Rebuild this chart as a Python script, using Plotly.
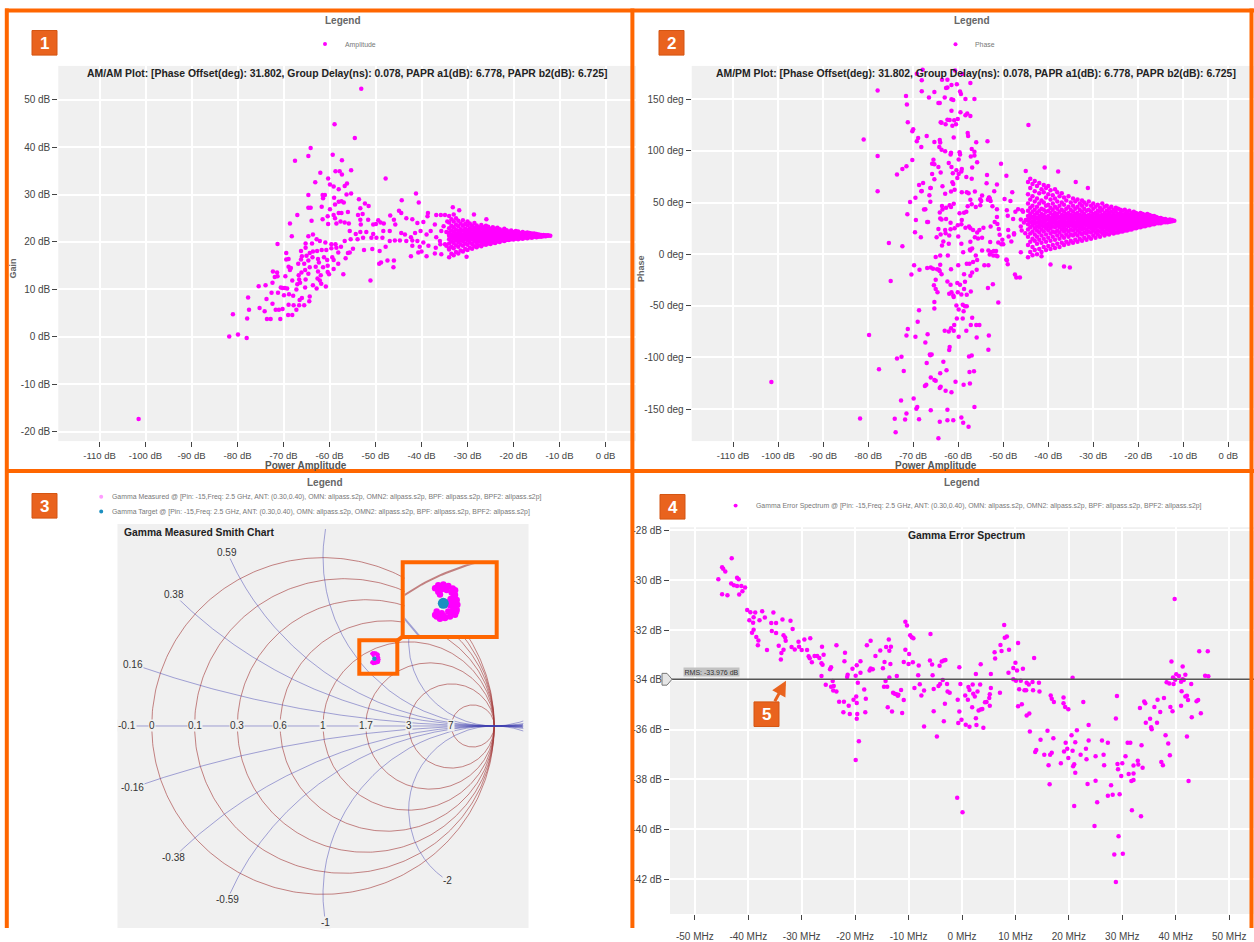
import numpy as np
import plotly.graph_objects as go

W, H = 1254, 942
FONT = "Liberation Sans, Arial, sans-serif"
MAGENTA = "#ff00ff"
TEAL = "#1b8fc0"
ORANGE = "#ff6600"
BADGE = "#e9631e"
PLOT_BG = "#f0f0f0"
TICK_COLOR = "#444444"

# ---------------- AM/AM: power amplitude (dB) vs gain (dB) ----------------
am_points = [
    (-53.1, 52.3), (-58.9, 44.8), (-54.5, 41.9), (-64.1, 39.8), (-64.6, 38.1), (-67.5, 37.1), (-59.3, 38.4),
    (-57.3, 37.2), (-58.7, 34.9), (-57.8, 34.9), (-57.3, 34.2), (-55.3, 35.1), (-62.0, 34.6), (-60.3, 33.4),
    (-63.1, 32.6), (-59.9, 32.1), (-59.1, 31.7), (-58.0, 31.1), (-56.2, 32.3), (-56.7, 31.8), (-47.8, 33.4),
    (-64.6, 29.9), (-61.5, 29.9), (-61.0, 29.9), (-61.4, 29.2), (-56.3, 30.0), (-55.3, 30.2), (-59.0, 29.3),
    (-58.0, 28.5), (-57.4, 28.6), (-56.9, 28.3), (-58.8, 27.9), (-64.6, 27.2), (-64.1, 27.2), (-61.7, 27.4),
    (-59.9, 26.9), (-53.6, 29.0), (-52.3, 28.1), (-51.5, 27.6), (-53.3, 27.1), (-41.2, 30.2), (-40.6, 28.3),
    (-44.3, 28.8), (-67.0, 25.7), (-68.6, 23.9), (-68.2, 21.2), (-71.3, 19.6), (-63.9, 24.5), (-61.5, 24.8),
    (-60.4, 25.4), (-59.1, 25.7), (-58.0, 26.1), (-57.4, 26.1), (-56.0, 26.3), (-58.8, 25.0), (-60.3, 23.8),
    (-58.5, 23.9), (-57.6, 24.3), (-56.7, 24.1), (-55.8, 23.9), (-53.8, 25.7), (-52.8, 25.9), (-53.3, 24.7),
    (-53.2, 23.7), (-51.6, 24.7), (-50.5, 23.7), (-49.9, 23.8), (-49.4, 24.6), (-48.9, 24.1), (-48.2, 23.9),
    (-46.8, 25.6), (-46.0, 24.7), (-45.7, 23.7), (-44.9, 26.6), (-44.4, 26.1), (-43.3, 25.0), (-42.0, 24.8),
    (-40.9, 24.0), (-39.6, 24.2), (-38.6, 26.1), (-38.7, 25.4), (-36.8, 25.7), (-35.8, 25.7), (-34.9, 25.7),
    (-34.4, 24.3), (-35.2, 23.3), (-37.1, 23.7), (-38.0, 22.3), (-35.7, 22.3), (-34.6, 22.1), (-34.0, 21.6),
    (-36.8, 21.0), (-36.0, 20.2), (-34.9, 19.5), (-38.9, 21.6), (-40.2, 22.3), (-41.4, 21.9), (-42.3, 21.0),
    (-43.6, 21.6), (-44.4, 21.9), (-46.9, 22.3), (-48.3, 22.3), (-50.5, 21.7), (-52.0, 22.1), (-53.3, 22.1),
    (-54.3, 21.7), (-55.6, 22.3), (-56.7, 20.2), (-55.4, 20.6), (-53.9, 20.6), (-52.7, 20.9), (-50.9, 20.9),
    (-49.8, 20.9), (-48.5, 20.9), (-46.9, 20.2), (-45.8, 20.3), (-44.7, 20.3), (-43.3, 20.2), (-42.0, 20.3),
    (-40.9, 20.2), (-39.6, 19.9), (-38.5, 19.2), (-36.9, 18.8), (-35.9, 19.5), (-34.6, 19.2), (-34.0, 18.7),
    (-37.1, 17.6), (-35.7, 17.4), (-40.4, 19.0), (-42.0, 19.2), (-40.0, 18.0), (-40.7, 17.8), (-38.9, 17.0),
    (-42.3, 17.0), (-47.8, 19.0), (-49.1, 18.1), (-50.7, 18.5), (-52.5, 18.3), (-54.9, 18.6), (-56.0, 17.7),
    (-55.6, 17.8), (-56.5, 16.6), (-57.5, 19.0), (-58.7, 19.5), (-59.6, 19.5), (-60.9, 19.9), (-62.1, 20.2),
    (-62.8, 20.6), (-63.6, 21.6), (-64.6, 21.2), (-65.2, 19.7), (-63.8, 19.7), (-65.2, 18.8), (-66.2, 18.1),
    (-66.0, 17.0), (-66.2, 16.3), (-65.0, 17.1), (-64.3, 17.7), (-63.6, 18.0), (-62.7, 18.1), (-61.7, 18.3),
    (-60.7, 18.3), (-59.6, 18.7), (-58.5, 18.8), (-58.1, 17.8), (-59.4, 16.8), (-61.2, 16.8), (-62.5, 16.4),
    (-63.7, 16.8), (-64.6, 16.1), (-65.5, 15.4), (-62.3, 15.7), (-60.5, 16.2), (-59.1, 16.2), (-58.1, 15.4),
    (-59.1, 14.3), (-60.4, 15.0), (-61.4, 14.7), (-63.0, 14.8), (-64.3, 14.7), (-65.3, 14.1), (-66.7, 13.0),
    (-69.4, 17.7), (-69.4, 16.3), (-68.9, 16.4), (-68.9, 14.8), (-68.4, 14.5), (-68.6, 14.1), (-69.6, 12.8),
    (-66.8, 15.4), (-66.1, 13.6), (-64.6, 13.3), (-62.5, 13.8), (-61.9, 13.0), (-60.4, 13.7), (-60.1, 13.2),
    (-62.6, 12.3), (-62.1, 11.9), (-61.8, 11.2), (-60.8, 10.6), (-63.6, 10.9), (-62.8, 10.2), (-65.2, 12.1),
    (-66.6, 12.1), (-67.0, 11.1), (-66.4, 11.4), (-65.3, 10.4), (-67.2, 10.0), (-68.1, 11.9), (-72.3, 13.8),
    (-71.4, 13.6), (-71.3, 12.8), (-71.9, 12.6), (-72.4, 11.4), (-69.7, 10.3), (-70.2, 10.3), (-69.2, 10.2),
    (-70.6, 10.4), (-64.3, 8.5), (-64.4, 7.5), (-66.0, 8.2), (-66.5, 7.8), (-67.9, 8.7), (-68.8, 9.0),
    (-69.9, 8.8), (-71.2, 9.3), (-72.6, 9.3), (-73.7, 8.0), (-72.4, 7.0), (-75.2, 6.1), (-74.1, 5.4),
    (-71.7, 5.7), (-71.0, 5.7), (-70.2, 5.9), (-68.9, 6.8), (-67.8, 6.7), (-66.6, 6.7), (-65.5, 6.7),
    (-67.2, 5.7), (-69.0, 4.6), (-68.1, 4.6), (-77.7, 8.3), (-77.5, 5.7), (-75.4, 10.7), (-73.9, 10.9),
    (-81.0, 4.8), (-77.9, 3.9), (-73.6, 3.8), (-72.8, 3.8), (-70.7, 3.8), (-81.8, 0.1), (-79.9, 0.5),
    (-78.0, -0.2), (-57.0, 13.2), (-49.2, 15.4), (-48.8, 15.7), (-47.4, 16.1), (-46.0, 16.1), (-46.1, 14.7),
    (-51.1, 11.9), (-101.5, -17.3), (-30.2, 16.9), (-28.6, 25.8), (-31.8, 26.7), (-33.2, 27.3), (-25.9, 24.8),
]
# dense converging tail: one power column with the gains seen in it
am_tail_power = [
    -34.0, -33.5, -33.0, -32.5, -32.0, -31.5, -31.0, -30.5, -30.0, -29.5, -29.0, -28.5, -28.0, -27.5, -27.0,
    -26.5, -26.0, -25.5, -25.0, -24.5, -24.0, -23.5, -23.0, -22.5, -22.0, -21.5, -21.0, -20.5, -20.0, -19.5,
    -19.0, -18.5, -18.0, -17.5, -17.0, -16.5, -16.0, -15.5, -15.0, -14.5, -14.0, -13.5, -13.0, -12.5, -12.0,
]
am_tail_gain = [
    [16.8, 18.4, 19.7, 20.6, 21.3, 22.0, 22.9, 24.1, 25.5], [17.5, 19.0, 20.1, 20.9, 21.6, 22.4, 23.4, 24.8],
    [17.2, 18.7, 19.8, 20.7, 21.4, 22.2, 23.1, 24.3, 25.8], [17.9, 19.3, 20.3, 21.0, 21.7, 22.6, 23.7, 25.0],
    [17.6, 19.0, 20.0, 20.8, 21.5, 22.3, 23.3, 24.5], [18.2, 19.5, 20.4, 21.2, 21.9, 22.7, 23.9],
    [18.0, 19.2, 20.2, 20.9, 21.6, 22.4, 23.4, 24.6], [18.5, 19.7, 20.6, 21.3, 22.0, 22.8, 23.8],
    [18.3, 19.4, 20.3, 21.0, 21.7, 22.5, 23.5, 24.3], [18.8, 19.9, 20.7, 21.4, 22.1, 22.9, 23.9],
    [18.6, 19.6, 20.5, 21.2, 21.8, 22.6, 23.4], [19.1, 20.1, 20.8, 21.5, 22.2, 23.0, 24.0],
    [18.9, 19.8, 20.6, 21.3, 21.9, 22.7, 23.5], [19.3, 20.2, 20.9, 21.6, 22.3, 23.1],
    [19.1, 20.0, 20.7, 21.4, 22.0, 22.8, 23.6], [19.5, 20.3, 21.0, 21.6, 22.3, 23.1],
    [19.4, 20.1, 20.8, 21.4, 22.1, 22.9, 23.4], [19.7, 20.4, 21.1, 21.7, 22.4, 23.2],
    [19.6, 20.3, 20.9, 21.5, 22.1, 22.8], [19.9, 20.6, 21.2, 21.8, 22.5, 23.1],
    [19.8, 20.4, 21.0, 21.6, 22.2, 22.8], [20.1, 20.7, 21.3, 21.8, 22.4, 23.0],
    [20.0, 20.6, 21.1, 21.6, 22.2, 22.7], [20.3, 20.8, 21.3, 21.9, 22.4],
    [20.2, 20.7, 21.2, 21.7, 22.2, 22.8], [20.4, 20.9, 21.4, 21.9, 22.5],
    [20.4, 20.8, 21.3, 21.7, 22.2], [20.6, 21.0, 21.4, 21.9, 22.4], [20.5, 20.9, 21.3, 21.7, 22.1],
    [20.7, 21.1, 21.5, 21.9, 22.3], [20.6, 21.0, 21.4, 21.8, 22.2], [20.8, 21.2, 21.5, 21.9],
    [20.7, 21.1, 21.4, 21.8, 22.1], [20.9, 21.2, 21.6, 21.9], [20.8, 21.1, 21.4, 21.7, 22.0],
    [21.0, 21.3, 21.6, 21.9], [20.9, 21.2, 21.5, 21.8], [21.1, 21.3, 21.6, 21.8],
    [21.0, 21.3, 21.5, 21.7], [21.1, 21.4, 21.6], [21.1, 21.3, 21.5], [21.2, 21.4, 21.5],
    [21.2, 21.4], [21.3, 21.4], [21.3],
]
am_x_ticks = [-110, -100, -90, -80, -70, -60, -50, -40, -30, -20, -10, 0]
am_y_ticks = [-20, -10, 0, 10, 20, 30, 40, 50]

# ---------------- AM/PM: power amplitude (dB) vs phase (deg) ----------------
pm_points = [
    (-77.9, 158.6), (-71.6, 153.2), (-71.4, 144.9), (-71.2, 127.8), (-70.2, 119.2), (-70.0, 121.1), (-69.2, 109.3),
    (-68.9, 112.5), (-68.2, 103.9), (-67.0, 114.4), (-81.0, 111.2), (-77.9, 95.0), (-73.6, 77.2), (-72.4, 82.6),
    (-71.5, 85.2), (-70.2, 91.2), (-77.9, 61.0), (-71.3, 38.8), (-70.7, 50.5), (-69.5, 54.7), (-68.2, 61.0),
    (-68.7, 67.1), (-67.8, 69.0), (-75.4, 10.8), (-72.4, 7.7), (-75.0, -26.0), (-70.4, -19.7), (-69.8, -10.8),
    (-68.6, -15.2), (-69.6, 21.3), (-69.4, 33.1), (-68.3, 16.5), (-67.3, 43.6), (-67.6, 43.2), (-66.7, 31.2),
    (-66.9, 31.2), (-66.2, 50.9), (-66.4, 57.2), (-66.1, 64.2), (-65.8, 77.6), (-65.8, 87.7), (-65.5, 91.5),
    (-65.3, 108.7), (-64.0, 108.1), (-64.2, 103.9), (-64.1, 110.6), (-63.7, 101.1), (-62.9, 99.8), (-63.9, 127.8),
    (-64.4, 146.5), (-64.1, 146.5), (-63.0, 151.9), (-62.7, 161.1), (-62.4, 161.4), (-68.1, 168.4), (-68.1, 157.9),
    (-66.5, 151.9), (-65.3, 157.0), (-69.2, 174.8), (-67.9, 178.6), (-63.6, 169.1), (-62.4, 169.1), (-61.5, 164.0),
    (-60.3, 164.6), (-60.7, 177.9), (-59.6, 157.6), (-59.4, 155.1), (-58.4, 150.3), (-59.1, 174.5), (-57.3, 165.9),
    (-56.4, 150.3), (-61.5, 150.0), (-61.1, 149.4), (-61.5, 138.9), (-62.4, 130.3), (-61.9, 130.0), (-61.3, 124.3),
    (-60.9, 129.7), (-60.1, 130.9), (-60.5, 125.8), (-59.5, 137.6), (-58.0, 136.3), (-58.4, 134.7), (-57.3, 133.8),
    (-63.7, 127.4), (-62.8, 125.8), (-57.9, 117.3), (-61.0, 113.1), (-57.8, 114.4), (-57.0, 102.0), (-56.4, 99.2),
    (-56.4, 95.7), (-57.2, 94.7), (-55.8, 89.0), (-56.0, 108.4), (-53.5, 109.3), (-61.7, 96.6), (-61.6, 98.2),
    (-59.7, 98.8), (-59.9, 91.8), (-59.6, 96.6), (-62.1, 88.3), (-61.5, 84.5), (-60.4, 81.4), (-59.2, 82.6),
    (-61.2, 78.5), (-59.9, 77.6), (-59.3, 80.1), (-58.2, 74.7), (-57.0, 73.1), (-56.9, 83.9), (-65.3, 87.1),
    (-64.4, 84.5), (-63.9, 79.1), (-65.3, 72.5), (-63.5, 65.8), (-66.2, 64.2), (-68.1, 61.3), (-62.9, 58.5),
    (-61.6, 60.7), (-60.8, 62.3), (-61.1, 68.0), (-61.3, 69.6), (-60.2, 73.7), (-59.2, 60.1), (-58.1, 60.1),
    (-57.7, 59.1), (-57.3, 52.8), (-56.3, 60.7), (-55.1, 53.1), (-53.6, 76.6), (-53.7, 68.6), (-54.7, 56.9),
    (-53.2, 54.7), (-53.0, 53.7), (-52.8, 51.5), (-52.0, 61.0), (-51.4, 67.4), (-50.5, 87.7), (-49.3, 75.9),
    (-49.7, 53.4), (-48.4, 51.5), (-48.0, 60.1), (-47.3, 41.0), (-46.7, 43.5), (-49.2, 42.6), (-49.0, 37.2),
    (-47.8, 34.0), (-46.1, 33.7), (-45.8, 42.6), (-45.6, 41.0), (-45.0, 80.7), (-44.4, 125.2), (-45.0, 33.1),
    (-46.1, 26.7), (-45.4, 30.8), (-45.1, 20.3), (-47.6, 20.3), (-48.9, 23.5), (-50.0, 9.5), (-51.3, 29.3),
    (-51.9, 31.2), (-51.4, 35.9), (-51.4, 43.5), (-52.4, 46.4), (-53.4, 52.8), (-53.1, 55.0), (-54.9, 51.5),
    (-55.1, 47.4), (-56.1, 45.8), (-57.0, 48.3), (-57.9, 46.4), (-58.2, 41.0), (-58.7, 40.1), (-59.2, 33.1),
    (-59.3, 28.9), (-59.7, 39.7), (-58.4, 25.7), (-57.6, 26.7), (-57.3, 25.1), (-56.7, 23.5), (-55.8, 21.0),
    (-55.3, 23.5), (-56.3, 16.5), (-54.4, 25.7), (-52.8, 26.7), (-51.0, 24.5), (-50.8, 18.8), (-50.2, 14.0),
    (-48.8, 17.2), (-47.6, 19.1), (-45.9, 22.9), (-48.2, 12.4), (-51.1, 11.4), (-52.9, 11.8), (-54.7, 15.9),
    (-55.6, 15.3), (-57.3, 12.1), (-61.0, 48.9), (-61.6, 45.8), (-61.9, 47.4), (-63.6, 46.7), (-62.7, 45.1),
    (-63.5, 43.2), (-64.1, 40.4), (-63.7, 33.7), (-62.7, 34.0), (-61.7, 30.5), (-62.9, 23.5), (-61.7, 24.1),
    (-60.8, 25.1), (-60.1, 28.0), (-60.0, 17.2), (-62.0, 18.1), (-62.8, 20.3), (-63.9, 19.1), (-64.8, 16.5),
    (-64.4, 24.5), (-64.0, 34.6), (-63.3, 12.4), (-63.6, 8.3), (-62.1, 10.2), (-59.3, 10.2), (-58.9, 1.9),
    (-57.4, 4.5), (-56.9, 5.4), (-57.3, 3.5), (-56.1, -1.3), (-54.7, 3.5), (-53.3, 3.5), (-52.7, 2.2),
    (-52.1, 3.2), (-53.0, -0.3), (-52.2, -1.3), (-51.3, -1.9), (-51.6, -1.3), (-51.6, 3.2), (-50.4, 9.5),
    (-46.1, 1.9), (-49.2, -6.0), (-49.0, -9.8), (-49.3, -5.1), (-47.1, -22.5), (-46.3, -22.5), (-47.4, -19.7),
    (-53.3, -10.8), (-54.2, -10.8), (-55.9, -15.2), (-56.9, -17.8), (-56.7, -7.6), (-58.1, -9.2), (-57.5, -9.2),
    (-55.8, -5.7), (-57.3, -21.0), (-58.7, -19.4), (-60.0, -10.8), (-61.6, -14.6), (-64.0, -10.2), (-64.3, -15.2),
    (-63.7, -19.4), (-64.1, -16.2), (-64.7, -14.6), (-66.1, -13.0), (-65.6, -14.0), (-66.9, -13.3), (-65.0, -2.8),
    (-64.0, -1.3), (-62.3, -1.3), (-65.4, -30.2), (-65.0, -24.8), (-64.6, -36.8), (-62.4, -26.4), (-61.7, -29.5),
    (-61.5, -36.8), (-61.0, -41.6), (-62.0, -38.4), (-61.1, -40.0), (-60.1, -36.8), (-60.2, -28.0), (-59.6, -29.5),
    (-58.5, -26.7), (-58.7, -33.7), (-58.1, -39.4), (-57.2, -36.2), (-59.3, -39.1), (-59.0, -48.9), (-58.5, -50.5),
    (-58.1, -50.5), (-58.8, -55.3), (-59.9, -53.7), (-60.4, -49.6), (-59.0, -62.3), (-60.3, -62.3), (-60.9, -68.6),
    (-61.6, -71.8), (-61.0, -74.3), (-62.1, -75.0), (-63.0, -74.3), (-59.9, -80.1), (-58.2, -74.3), (-57.2, -68.6),
    (-56.9, -61.6), (-56.0, -68.6), (-55.3, -68.6), (-55.9, -80.7), (-53.4, -32.7), (-52.3, -29.2), (-51.1, -46.7),
    (-53.2, -78.8), (-53.3, -92.5), (-65.0, -33.7), (-65.3, -46.4), (-65.3, -52.7), (-69.0, -65.4), (-68.7, -54.3),
    (-71.2, -72.4), (-71.5, -78.8), (-69.5, -80.1), (-67.3, -85.5), (-66.8, -77.5), (-65.9, -97.2), (-66.2, -97.9),
    (-67.0, -105.5), (-63.3, -104.2), (-62.6, -112.5), (-61.9, -89.9), (-62.0, -92.8), (-60.6, -123.6),
    (-61.5, -133.8), (-62.8, -132.2), (-64.1, -129.6), (-63.9, -128.4), (-65.0, -122.6), (-66.1, -119.5),
    (-67.4, -127.7), (-67.1, -126.5), (-64.0, -115.3), (-57.6, -99.1), (-57.4, -125.2), (-56.5, -113.4),
    (-57.5, -114.1), (-57.0, -98.2), (-65.3, -122.0), (-58.8, -126.5), (-62.4, -150.6), (-66.1, -151.2),
    (-69.1, -148.1), (-68.7, -159.8), (-69.3, -149.7), (-69.9, -139.8), (-71.5, -154.4), (-74.1, -159.5),
    (-71.8, -160.1), (-73.9, -172.5), (-72.7, -141.7), (-72.1, -113.1), (-73.6, -101.0), (-72.6, -99.4),
    (-77.6, -111.5), (-79.8, -78.2), (-81.8, -159.2), (-66.3, -97.2), (-64.1, -162.4), (-62.4, -160.8),
    (-61.1, -160.8), (-59.3, -158.2), (-58.9, -163.3), (-57.7, -167.1), (-56.4, -148.1), (-64.4, -178.3),
    (-101.5, -123.9), (-39.5, -10.0), (-36.5, -12.0), (-35.2, -13.0), (-41.5, -2.0), (-37.8, 80.0),
    (-40.8, 84.0), (-33.9, 70.0), (-31.2, 64.0),
]
pm_tail_power = [
    -44.5, -44.0, -43.5, -43.0, -42.5, -42.0, -41.5, -41.0, -40.5, -40.0, -39.5, -39.0, -38.5, -38.0, -37.5,
    -37.0, -36.5, -36.0, -35.5, -35.0, -34.5, -34.0, -33.5, -33.0, -32.5, -32.0, -31.5, -31.0, -30.5, -30.0,
    -29.5, -29.0, -28.5, -28.0, -27.5, -27.0, -26.5, -26.0, -25.5, -25.0, -24.5, -24.0, -23.5, -23.0, -22.5,
    -22.0, -21.5, -21.0, -20.5, -20.0, -19.5, -19.0, -18.5, -18.0, -17.5, -17.0, -16.5, -16.0, -15.5, -15.0,
    -14.5, -14.0, -13.5, -13.0, -12.5, -12.0,
]
pm_tail_phase = [
    [-3, 9, 17, 24, 29, 33, 37, 42, 49, 58, 70], [2, 12, 20, 26, 31, 35, 39, 45, 53, 64, 73],
    [-1, 7, 15, 22, 28, 32, 36, 41, 47, 56, 68], [4, 13, 19, 25, 30, 34, 38, 43, 51, 61, 71],
    [0, 10, 17, 23, 27, 31, 35, 40, 46, 54, 66], [5, 14, 21, 26, 30, 33, 37, 42, 49, 59, 69],
    [2, 11, 18, 24, 28, 32, 36, 39, 44, 52, 63], [7, 15, 22, 27, 31, 34, 38, 43, 50, 60, 67],
    [4, 12, 19, 25, 29, 33, 36, 41, 47, 55, 64], [8, 16, 23, 27, 30, 34, 37, 42, 48, 58, 66],
    [5, 13, 20, 25, 29, 32, 35, 40, 45, 53, 62], [9, 17, 22, 27, 31, 34, 38, 43, 49, 57],
    [6, 14, 21, 26, 30, 33, 36, 40, 46, 54, 63], [10, 18, 23, 28, 31, 35, 39, 44, 51, 60],
    [7, 15, 21, 26, 29, 32, 36, 41, 47, 56], [11, 18, 24, 28, 31, 34, 38, 43, 50, 59],
    [9, 16, 22, 26, 30, 33, 37, 41, 48, 55], [12, 19, 24, 28, 31, 35, 39, 44, 52],
    [10, 17, 22, 27, 30, 33, 36, 40, 46, 56], [13, 19, 24, 28, 31, 34, 38, 43, 50],
    [11, 18, 23, 27, 30, 33, 37, 41, 47, 54], [14, 20, 25, 28, 31, 35, 39, 44, 51],
    [12, 18, 23, 27, 30, 33, 36, 40, 46, 53], [15, 21, 25, 29, 32, 35, 38, 43, 49],
    [13, 19, 24, 27, 30, 33, 37, 41, 47, 52], [16, 21, 25, 29, 32, 35, 39, 44, 50],
    [14, 20, 24, 28, 31, 34, 37, 42, 48], [17, 22, 26, 29, 32, 35, 38, 43, 51],
    [15, 21, 25, 28, 31, 34, 37, 41, 47], [18, 23, 26, 29, 32, 35, 39, 44, 49],
    [16, 21, 25, 28, 31, 33, 36, 40, 46], [19, 23, 27, 30, 32, 35, 38, 42, 48],
    [17, 22, 26, 29, 31, 34, 37, 41, 45], [20, 24, 27, 30, 33, 35, 38, 43, 49],
    [18, 22, 26, 29, 31, 34, 37, 40, 46], [20, 24, 27, 30, 32, 35, 38, 42, 47],
    [19, 23, 26, 29, 31, 33, 36, 40, 44], [21, 24, 27, 30, 32, 35, 37, 41, 46],
    [20, 23, 26, 29, 31, 34, 36, 39, 43], [21, 25, 28, 30, 32, 34, 37, 41, 45],
    [21, 24, 27, 29, 31, 33, 36, 39, 44], [22, 25, 28, 30, 32, 34, 37, 40, 43],
    [22, 25, 27, 29, 31, 33, 35, 38, 42], [23, 26, 28, 30, 32, 34, 36, 39, 43],
    [23, 25, 27, 30, 32, 33, 35, 38, 41], [24, 26, 28, 30, 32, 34, 36, 38, 42],
    [24, 26, 29, 31, 33, 35, 37, 40], [25, 27, 29, 31, 32, 34, 36, 39, 41],
    [25, 27, 29, 31, 33, 35, 37, 40], [26, 28, 30, 31, 33, 34, 36, 39],
    [26, 28, 29, 31, 33, 35, 37, 40], [27, 29, 30, 32, 33, 35, 37, 39],
    [27, 29, 31, 32, 34, 36, 38], [28, 29, 31, 32, 34, 35, 37, 39],
    [28, 30, 31, 33, 34, 36, 38], [29, 30, 32, 33, 34, 36, 37],
    [29, 31, 32, 33, 35, 37], [30, 31, 32, 33, 34, 36], [30, 31, 32, 34, 35], [30, 32, 33, 34, 35],
    [31, 32, 33, 34], [31, 32, 33, 34], [31, 32, 33], [31.5, 32.5, 33.5], [32, 33], [32.5],
]
pm_y_ticks = [-150, -100, -50, 0, 50, 100, 150]

# ---------------- Smith chart: reflection coefficients ----------------
gamma_target = [(0.30, 0.40)]
gamma_measured = [
    (0.2902, 0.4359), (0.3001, 0.4371), (0.3098, 0.4346), (0.3183, 0.4293), (0.2969, 0.4281), (0.3066, 0.4262),
    (0.3164, 0.4215), (0.2902, 0.4229), (0.3229, 0.4164), (0.3261, 0.4066), (0.3274, 0.3969), (0.3261, 0.3871),
    (0.3196, 0.4111), (0.3196, 0.4001), (0.3196, 0.3902), (0.3144, 0.4086), (0.3229, 0.3773), (0.3131, 0.3740),
    (0.3033, 0.3707), (0.2935, 0.3695), (0.2871, 0.3740), (0.3098, 0.3838), (0.2969, 0.3805), (0.2871, 0.3838),
    (0.3164, 0.3818), (0.2871, 0.4307), (0.2935, 0.4176), (0.3131, 0.3960), (0.3131, 0.4040), (0.2840, 0.3770),
    (0.2840, 0.4300), (0.3050, 0.4320), (0.3230, 0.4260), (0.3250, 0.3830), (0.3010, 0.3750),
]
smith_resistances = [0, 0.1429, 0.3333, 0.6, 1, 1.6667, 3, 7]
smith_reactances = [0.16, 0.38, 0.59, 1, 2, -0.16, -0.38, -0.59, -1, -2]
smith_axis_label_r = [-0.1, 0, 0.1429, 0.3333, 0.6, 1, 1.6667, 3, 7]
smith_axis_labels = ["-0.1", "0", "0.1", "0.3", "0.6", "1", "1.7", "3", "7"]
smith_arc_labels = ["0.16", "0.38", "0.59", "-0.16", "-0.38", "-0.59", "-1", "-2"]
smith_arc_label_x = [0.16, 0.38, 0.59, -0.16, -0.38, -0.59, -1, -2]

# ---------------- Gamma error spectrum: offset (MHz) vs error (dB) ----------------
ges_points = [
    (-43.1, -29.12), (-44.9, -29.48), (-44.7, -29.54), (-44.3, -29.65), (-45.6, -29.96), (-42.1, -29.90),
    (-41.8, -29.96), (-43.2, -30.13), (-42.7, -30.20), (-42.1, -30.23), (-41.3, -30.23), (-40.6, -30.29),
    (-41.1, -30.44), (-44.9, -30.56), (-43.9, -30.60), (-41.7, -30.57), (-40.2, -31.19), (-39.6, -31.28),
    (-38.7, -31.29), (-37.4, -31.24), (-35.3, -31.29), (-39.0, -31.49), (-36.9, -31.50), (-39.8, -31.61),
    (-37.9, -31.61), (-39.1, -31.71), (-35.7, -31.72), (-34.8, -31.72), (-33.6, -31.58), (-32.1, -31.63),
    (-39.3, -32.11), (-39.0, -31.99), (-35.6, -32.04), (-34.8, -32.12), (-31.7, -31.96), (-38.5, -32.28),
    (-38.1, -32.42), (-38.2, -32.61), (-33.4, -32.21), (-33.1, -32.30), (-33.0, -32.43), (-36.5, -32.80),
    (-34.3, -32.63), (-33.4, -32.79), (-33.8, -32.92), (-33.9, -33.18), (-31.9, -32.68), (-31.3, -32.78),
    (-30.6, -32.47), (-30.5, -32.67), (-30.0, -32.80), (-29.5, -32.38), (-29.0, -32.80), (-28.4, -32.33),
    (-28.7, -33.05), (-28.5, -33.13), (-28.1, -33.29), (-27.6, -33.04), (-27.1, -33.04), (-26.7, -33.12),
    (-26.2, -32.67), (-25.9, -32.99), (-26.3, -33.33), (-26.1, -33.39), (-24.5, -33.49), (-24.7, -33.57),
    (-23.5, -32.61), (-21.9, -32.91), (-22.0, -33.25), (-26.3, -33.84), (-25.5, -34.20), (-24.2, -34.05),
    (-24.0, -34.25), (-24.5, -34.28), (-24.1, -34.43), (-23.5, -34.47), (-23.0, -34.88), (-22.1, -34.88),
    (-21.2, -35.04), (-22.2, -35.30), (-21.0, -35.37), (-20.3, -34.80), (-19.8, -34.67), (-19.7, -34.93),
    (-19.6, -35.37), (-19.7, -35.56), (-19.5, -34.12), (-19.9, -33.83), (-21.4, -33.79), (-21.5, -33.88),
    (-20.5, -33.55), (-19.7, -33.41), (-19.0, -33.25), (-19.0, -33.71), (-18.3, -34.39), (-18.0, -34.76),
    (-18.1, -35.30), (-17.8, -32.61), (-17.1, -32.43), (-17.3, -33.62), (-17.1, -33.54), (-16.7, -33.57),
    (-16.2, -33.04), (-15.3, -32.82), (-14.8, -33.53), (-14.5, -33.28), (-14.2, -32.68), (-13.7, -32.38),
    (-13.3, -32.67), (-13.6, -32.83), (-13.4, -33.36), (-14.3, -34.05), (-14.6, -34.28), (-14.0, -34.28),
    (-13.6, -33.91), (-12.2, -33.84), (-12.9, -34.52), (-12.6, -34.56), (-12.3, -34.58), (-12.0, -34.64),
    (-11.4, -34.41), (-11.9, -34.60), (-10.9, -34.81), (-13.9, -35.10), (-13.1, -35.27), (-11.2, -35.33),
    (-10.6, -31.67), (-10.3, -31.82), (-9.7, -32.21), (-9.4, -32.29), (-9.1, -32.33), (-10.6, -32.79),
    (-9.9, -32.96), (-10.9, -33.28), (-10.0, -33.36), (-9.2, -33.29), (-8.1, -33.42), (-8.2, -33.81),
    (-7.9, -34.18), (-7.6, -34.63), (-7.1, -34.43), (-8.9, -34.33), (-5.9, -32.16), (-6.0, -33.22),
    (-5.6, -33.38), (-5.5, -33.81), (-5.3, -34.37), (-4.4, -34.25), (-4.1, -34.17), (-4.2, -33.43),
    (-3.8, -33.26), (-3.4, -33.22), (-3.1, -33.20), (-3.6, -34.01), (-2.8, -34.17), (-2.7, -34.47),
    (-2.3, -34.52), (-3.2, -34.96), (-5.3, -35.26), (-3.4, -35.66), (-7.1, -35.87), (-4.7, -36.27),
    (-0.5, -33.49), (-0.3, -34.17), (-0.8, -34.80), (-0.5, -35.27), (-0.7, -35.73), (-0.1, -35.60),
    (0.7, -35.80), (1.4, -35.88), (1.2, -34.29), (0.6, -34.63), (1.1, -34.80), (1.4, -34.41),
    (-19.3, -36.47), (-19.9, -37.22), (-0.9, -38.73), (0.1, -39.32),
    (39.8, -30.75), (7.9, -31.80), (8.0, -32.31), (8.4, -32.26), (7.2, -32.60), (7.4, -32.84), (8.8, -32.79),
    (6.1, -32.89), (6.2, -33.14), (10.5, -32.52), (13.5, -33.12), (10.0, -33.31), (9.6, -33.52), (10.3, -33.62),
    (11.4, -33.55), (8.7, -33.71), (5.4, -33.76), (2.6, -33.76), (3.5, -33.37), (9.6, -33.98), (10.1, -34.04),
    (11.0, -34.04), (12.1, -34.12), (12.5, -34.19), (13.2, -34.09), (14.4, -34.12), (10.7, -34.38),
    (11.7, -34.42), (12.0, -34.42), (13.3, -34.42), (14.5, -34.47), (7.1, -34.52), (5.4, -34.33), (5.2, -34.58),
    (5.1, -34.73), (4.6, -34.89), (4.3, -34.90), (5.2, -35.04), (3.4, -34.19), (2.0, -34.19), (2.1, -34.56),
    (2.4, -34.67), (2.9, -34.47), (1.9, -35.10), (2.6, -35.54), (2.7, -35.81), (3.5, -35.19), (3.1, -35.23),
    (3.8, -35.17), (4.0, -35.92), (11.2, -34.98), (10.5, -35.06), (12.6, -35.35), (12.1, -35.43),
    (12.7, -36.07), (13.9, -36.82), (13.7, -36.90), (14.7, -36.40), (16.0, -36.04), (17.1, -36.34),
    (16.6, -34.63), (16.8, -34.76), (17.2, -34.89), (19.0, -34.71), (19.0, -34.94), (19.3, -35.09),
    (19.9, -35.18), (20.7, -33.92), (22.7, -34.89), (23.7, -35.81), (20.5, -36.22), (21.2, -36.51),
    (21.5, -36.02), (19.4, -36.53), (19.7, -36.77), (19.1, -36.88), (20.7, -36.85), (15.4, -37.01),
    (16.5, -37.01), (16.8, -36.93), (16.2, -37.43), (16.4, -38.19), (18.5, -37.35), (19.9, -37.14),
    (21.0, -37.39), (20.8, -37.47), (21.2, -37.73), (22.2, -37.01), (23.2, -36.77), (23.7, -36.44),
    (23.3, -37.19), (23.5, -38.18), (25.0, -38.05), (25.0, -37.07), (26.5, -37.01), (26.2, -36.43),
    (27.3, -36.53), (26.6, -37.43), (25.3, -38.91), (24.8, -39.87), (21.0, -39.07), (27.9, -38.23),
    (27.3, -38.65), (28.2, -38.61), (29.5, -38.59), (29.0, -34.65), (28.8, -35.55), (29.1, -37.38),
    (29.2, -37.59), (30.0, -37.35), (29.8, -37.86), (30.6, -37.07), (31.0, -36.53), (31.5, -36.53),
    (31.2, -37.78), (31.7, -38.06), (32.1, -38.02), (32.1, -37.76), (32.1, -37.44), (32.9, -37.25),
    (33.0, -37.40), (33.8, -37.53), (33.6, -36.63), (31.8, -39.24), (33.5, -39.48), (29.3, -40.28),
    (28.5, -41.01), (30.1, -40.98), (28.8, -42.12), (33.3, -35.13), (34.1, -34.87), (34.3, -34.94),
    (34.4, -35.72), (35.2, -35.56), (35.4, -35.90), (35.5, -35.98), (36.5, -35.72), (36.0, -35.09),
    (36.6, -34.80), (37.1, -35.29), (37.8, -34.73), (38.1, -36.22), (38.6, -36.56), (38.9, -37.03),
    (37.3, -37.30), (37.6, -37.43), (39.0, -35.09), (39.4, -35.26), (39.2, -33.26), (39.5, -33.91),
    (39.6, -34.17), (39.9, -34.00), (40.1, -33.77), (40.6, -33.84), (41.0, -34.08), (41.3, -33.98),
    (41.5, -34.01), (41.3, -33.46), (41.8, -33.79), (42.9, -34.17), (41.1, -34.46), (41.0, -35.04),
    (41.8, -34.67), (42.1, -34.64), (42.3, -34.81), (43.9, -34.86), (44.2, -34.81), (43.0, -35.50),
    (44.7, -35.34), (42.1, -36.27), (42.4, -38.06), (44.4, -32.85), (46.0, -32.85), (45.5, -33.83),
    (46.1, -33.85), (38.3, -34.10), (38.8, -34.15),
]
ges_rms_db = -33.976
ges_x_ticks = [-50, -40, -30, -20, -10, 0, 10, 20, 30, 40, 50]
ges_y_ticks = [-42, -40, -38, -36, -34, -32, -30, -28]

AM_TITLE = ("AM/AM Plot: [Phase Offset(deg): 31.802, Group Delay(ns): 0.078, "
            "PAPR a1(dB): 6.778, PAPR b2(dB): 6.725]")
PM_TITLE = ("AM/PM Plot: [Phase Offset(deg): 31.802, Group Delay(ns): 0.078, "
            "PAPR a1(dB): 6.778, PAPR b2(dB): 6.725]")
COND = ("[Pin: -15,Freq: 2.5 GHz, ANT: (0.30,0.40), OMN: allpass.s2p, OMN2: allpass.s2p, "
        "BPF: allpass.s2p, BPF2: allpass.s2p]")


def px(x):
    return x / W


def py(y):
    return 1 - y / H


def expand(col_x, col_y):
    xs, ys = [], []
    for x, col in zip(col_x, col_y):
        xs += [x] * len(col)
        ys += list(col)
    return xs, ys


am_x, am_y = (list(v) for v in zip(*am_points))
tx, ty = expand(am_tail_power, am_tail_gain)
am_x += tx
am_y += ty

pm_x, pm_y = (list(v) for v in zip(*pm_points))
tx, ty = expand(pm_tail_power, pm_tail_phase)
pm_x += tx
pm_y += ty

ges_x, ges_y = zip(*ges_points)
gm_x, gm_y = zip(*gamma_measured)
gt_x, gt_y = zip(*gamma_target)

# ---------------- Smith chart grid geometry ----------------
R_LIMIT = 1.17


def resistance_circle(r):
    t = np.linspace(0, 2 * np.pi, 361)
    c, rad = r / (1 + r), 1 / (1 + r)
    return list(c + rad * np.cos(t)), list(rad * np.sin(t))


def reactance_arc(x):
    t = np.linspace(0, 2 * np.pi, 6001)
    rad = 1 / abs(x)
    gx = 1 + rad * np.cos(t)
    gy = 1 / x + rad * np.sin(t)
    keep = np.hypot(gx, gy) <= R_LIMIT
    xs, ys = [], []
    prev = False
    for k in range(len(t)):
        if keep[k]:
            xs.append(float(gx[k]))
            ys.append(float(gy[k]))
        elif prev:
            xs.append(None)
            ys.append(None)
        prev = keep[k]
    return xs, ys


def arc_label_point(x):
    # far intersection of the reactance circle with |gamma| = R_LIMIT
    k = (R_LIMIT ** 2 + 1) / 2
    a = 1 / x ** 2 + 1
    disc = np.sqrt((k / x) ** 2 - a * (k ** 2 - R_LIMIT ** 2))
    im = (k / x + np.sign(x) * disc) / a
    return k - im / x, im


res_x, res_y = [], []
for r in smith_resistances:
    cx, cy = resistance_circle(r)
    res_x += cx + [None]
    res_y += cy + [None]

reac_x, reac_y = [-R_LIMIT, R_LIMIT, None], [0, 0, None]
for xv in smith_reactances:
    ax_, ay_ = reactance_arc(xv)
    reac_x += ax_ + [None]
    reac_y += ay_ + [None]

BROWN = "rgba(165,60,60,0.62)"
NAVY = "rgba(60,60,175,0.45)"

fig = go.Figure()

# panel 1
fig.add_trace(go.Scatter(x=am_x, y=am_y, mode="markers", xaxis="x", yaxis="y",
                         marker=dict(color=MAGENTA, size=4.5, line=dict(width=0))))
# panel 2
fig.add_trace(go.Scatter(x=pm_x, y=pm_y, mode="markers", xaxis="x2", yaxis="y2",
                         marker=dict(color=MAGENTA, size=4.5, line=dict(width=0))))
# panel 3: Smith chart and its magnified inset
for xa, ya, lw, ms_m, ms_t in (("x3", "y3", 1, 3, 4.5), ("x5", "y5", 2, 6.5, 11)):
    fig.add_trace(go.Scatter(x=res_x, y=res_y, mode="lines", xaxis=xa, yaxis=ya,
                             line=dict(color=BROWN, width=lw)))
    fig.add_trace(go.Scatter(x=reac_x, y=reac_y, mode="lines", xaxis=xa, yaxis=ya,
                             line=dict(color=NAVY, width=lw)))
    fig.add_trace(go.Scatter(x=gm_x, y=gm_y, mode="markers", xaxis=xa, yaxis=ya,
                             marker=dict(color=MAGENTA, size=ms_m, line=dict(width=0))))
    fig.add_trace(go.Scatter(x=gt_x, y=gt_y, mode="markers", xaxis=xa, yaxis=ya,
                             marker=dict(color=TEAL, size=ms_t, line=dict(width=0))))
# panel 4
fig.add_trace(go.Scatter(x=ges_x, y=ges_y, mode="markers", xaxis="x4", yaxis="y4",
                         marker=dict(color=MAGENTA, size=4.5, line=dict(width=0))))


def value_axis(domain, rng, ticks, suffix, anchor, size=10, standoff=None):
    d = dict(domain=domain, range=rng, tickvals=ticks, ticktext=[f"{v}{suffix}" for v in ticks],
             showgrid=True, gridcolor="white", gridwidth=1.5, zeroline=False, showline=False,
             ticks="outside", ticklen=5, tickwidth=1, tickcolor=TICK_COLOR, anchor=anchor,
             tickfont=dict(family=FONT, size=size, color=TICK_COLOR), fixedrange=True)
    if standoff is not None:
        d["ticklabelstandoff"] = standoff
    return d


def bare_axis(domain, rng, anchor):
    return dict(domain=domain, range=rng, showgrid=False, zeroline=False, showline=False,
                showticklabels=False, ticks="", anchor=anchor, fixedrange=True)


# inset range: 3x magnification around the target
inset_px = (404.7, 494.7, 572.0, 644.0)
mag = 3 * 170.8
inset_xr = [0.30 - (443.3 - inset_px[0]) / mag, 0.30 + (inset_px[1] - 443.3) / mag]
inset_yr = [0.40 - (inset_px[3] - 611.7) / mag, 0.40 + (611.7 - inset_px[2]) / mag]

fig.update_layout(
    width=W, height=H, margin=dict(l=0, r=0, t=0, b=0), autosize=False,
    paper_bgcolor="white", plot_bgcolor=PLOT_BG, showlegend=False, hovermode=False,
    font=dict(family=FONT),
    xaxis=value_axis([px(58.3), px(636)], [-118.96, 6.63], am_x_ticks, " dB", "y", 9.5),
    yaxis=value_axis([py(446.7), py(65)], [-21.95, 57.1], am_y_ticks, " dB", "x"),
    xaxis2=value_axis([px(691.7), 1.0], [-119.2, 5.7], am_x_ticks, " dB", "y2", 9.5),
    yaxis2=value_axis([py(446.7), py(65)], [-181.1, 182.4], pm_y_ticks, " deg", "x2"),
    xaxis3=bare_axis([px(117.5), px(528.5)], [-1.2, 1.2], "y3"),
    yaxis3=bare_axis([0, py(531)], [-1.2, 1.2], "x3"),
    xaxis4=value_axis([px(670), 1.0], [-54.65, 54.65], ges_x_ticks, " MHz", "y4", 10, 8),
    yaxis4=value_axis([py(927.7), py(534.3)], [-43.4, -27.87], ges_y_ticks, " dB", "x4"),
    xaxis5=bare_axis([px(inset_px[0]), px(inset_px[1])], inset_xr, "y5"),
    yaxis5=bare_axis([py(inset_px[3]), py(inset_px[2])], inset_yr, "x5"),
)

ann = []
shapes = []


def text(x, y, s, size, color="#333", bold=False, xanchor="center", yanchor="middle", angle=0, bg=None):
    a = dict(xref="paper", yref="paper", x=px(x), y=py(y), text=f"<b>{s}</b>" if bold else s,
             showarrow=False, xanchor=xanchor, yanchor=yanchor, textangle=angle,
             font=dict(family=FONT, size=size, color=color))
    if bg:
        a.update(bgcolor=bg, borderpad=0)
    ann.append(a)


def dot(x, y, r, color):
    shapes.append(dict(type="circle", xref="paper", yref="paper", x0=px(x - r), x1=px(x + r),
                       y0=py(y + r), y1=py(y - r), fillcolor=color, line=dict(width=0), layer="above"))


# titles
text(347, 73, AM_TITLE, 10.4, "#222", bold=True)
text(976, 73, PM_TITLE, 10.4, "#222", bold=True)
text(121.7, 539.5, "Gamma Measured Smith Chart", 10.3, "#222", bold=True, xanchor="left")
text(966, 543, "Gamma Error Spectrum", 10.4, "#222", bold=True)

# legends
for lx, ly in ((342.6, 19.3), (972.2, 19.3), (325.3, 488.3), (961.9, 489)):
    text(lx, ly, "Legend", 10, "#666", bold=True)
dot(325, 42.7, 2, MAGENTA)
text(343.4, 43.5, "Amplitude", 6.9, "#777", xanchor="left")
dot(955.5, 43, 2, MAGENTA)
text(973, 43.5, "Phase", 6.9, "#777", xanchor="left")
dot(101.2, 503.3, 2, "#ff9cff")
text(110.4, 503.8, "Gamma Measured @ " + COND, 6.9, "#777", xanchor="left")
dot(101.2, 518.3, 2, TEAL)
text(110.4, 518.8, "Gamma Target @ " + COND, 6.9, "#777", xanchor="left")
dot(735.6, 512.3, 2, MAGENTA)
text(754.3, 512.8, "Gamma Error Spectrum @ " + COND, 6.9, "#777", xanchor="left")

# axis titles
text(306, 471.5, "Power Amplitude", 10, "#555", bold=True)
text(936, 471.5, "Power Amplitude", 10, "#555", bold=True)
text(13.5, 271.7, "Gain", 9, "#666", bold=True, angle=-90)
text(641, 271.7, "Phase", 9, "#666", bold=True, angle=-90)

# Smith chart labels
for r, s in zip(smith_axis_label_r, smith_axis_labels):
    gx = max((r - 1) / (r + 1), -1.2 + 0.055)
    ann.append(dict(xref="x3", yref="y3", x=gx, y=0, text=s, showarrow=False, bgcolor=PLOT_BG,
                    borderpad=0, font=dict(family=FONT, size=10, color="#333")))
for xv, s in zip(smith_arc_label_x, smith_arc_labels):
    gx, gy = arc_label_point(xv)
    ann.append(dict(xref="x3", yref="y3", x=float(gx), y=float(gy), text=s, showarrow=False,
                    bgcolor=PLOT_BG, borderpad=0, font=dict(family=FONT, size=10, color="#333")))

# RMS marker line with its label
shapes.append(dict(type="line", xref="x4 domain", yref="y4", x0=0, x1=1, y0=ges_rms_db, y1=ges_rms_db,
                   line=dict(color="#555", width=1.3), layer="above"))
ann.append(dict(xref="paper", yref="y4", x=px(683), y=ges_rms_db, yshift=2, xanchor="left", yanchor="bottom",
                text=f"RMS: {ges_rms_db:.3f} dB", showarrow=False, bgcolor="#c2c2c2", borderpad=0.5,
                font=dict(family=FONT, size=7, color="#333")))
ya_rms = 534.3 + (-27.87 - ges_rms_db) / (-27.87 + 43.4) * (927.7 - 534.3)
pts = [(662, ya_rms - 6), (667, ya_rms - 6), (672, ya_rms), (667, ya_rms + 6), (662, ya_rms + 6)]
path = "M " + " L ".join(f"{px(a)},{py(b)}" for a, b in pts) + " Z"
shapes.append(dict(type="path", xref="paper", yref="paper", path=path, fillcolor="#e6e6e6",
                   line=dict(color="#777", width=1), layer="above"))

# orange panel frame
frame = [((5, 8.7), (1254, 8.7)), ((6.8, 6.7), (6.8, 942)), ((632.4, 6.7), (632.4, 942)),
         ((5, 477), (1254, 477)), ((1251.5, 6.7), (1251.5, 942))]
for (x0, y0), (x1, y1) in frame:
    shapes.append(dict(type="line", xref="paper", yref="paper", x0=px(x0), y0=py(y0), x1=px(x1), y1=py(y1),
                       line=dict(color=ORANGE, width=4), layer="above"))

# callout around the measured cluster
for x0, y0, x1, y1 in ((359.3, 649.3, 397.3, 683.3), (402.7, 570, 496.7, 646)):
    shapes.append(dict(type="rect", xref="paper", yref="paper", x0=px(x0), x1=px(x1), y0=py(y1), y1=py(y0),
                       line=dict(color=ORANGE, width=4), fillcolor="rgba(0,0,0,0)", layer="above"))
shapes.append(dict(type="line", xref="paper", yref="paper", x0=px(395), y0=py(651.5), x1=px(404.5), y1=py(644),
                   line=dict(color=ORANGE, width=4), layer="above"))

# numbered badges
for n, (x0, y0, x1, y1) in enumerate(((32, 29, 57, 54), (659, 29, 684, 54), (32, 500, 57, 525),
                                      (660, 501, 685, 526), (754, 712, 779, 737)), start=1):
    shapes.append(dict(type="rect", xref="paper", yref="paper", x0=px(x0), x1=px(x1), y0=py(y1), y1=py(y0),
                       fillcolor=BADGE, line=dict(color="#d45512", width=1), layer="above"))
    text((x0 + x1) / 2, (y0 + y1) / 2 + 0.5, str(n), 17, "white", bold=True)

ann.append(dict(xref="paper", yref="paper", x=px(786), y=py(690.5), ax=-12, ay=22, text="", showarrow=True,
                arrowhead=2, arrowsize=1, arrowwidth=3, arrowcolor=BADGE))

fig.update_layout(annotations=ann, shapes=shapes)
fig.write_html("out.html", config={"displayModeBar": False})
